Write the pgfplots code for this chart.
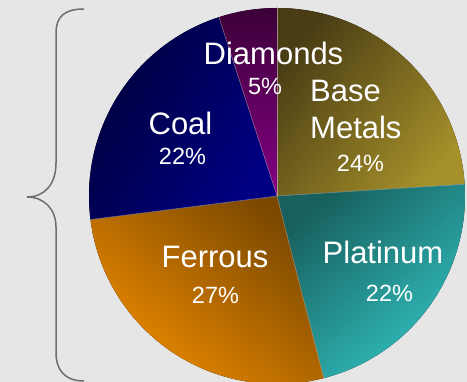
\documentclass[border=0pt]{standalone}
\usepackage{fontspec}
\setmainfont{Liberation Sans}
\usepackage{pgfplots}
\usepackage{pgfplotstable}
\pgfplotsset{compat=1.18}

\definecolor{bgc}{HTML}{E6E6E6}
\definecolor{braceC}{HTML}{6E6E6E}
\definecolor{bmD}{HTML}{4A3D14}
\definecolor{bmL}{HTML}{A5902A}
\definecolor{ptD}{HTML}{17605E}
\definecolor{ptL}{HTML}{32C0C0}
\definecolor{feD}{HTML}{7A4800}
\definecolor{feL}{HTML}{F08C00}
\definecolor{coD}{HTML}{00003A}
\definecolor{coL}{HTML}{000084}
\definecolor{diD}{HTML}{3C0038}
\definecolor{diL}{HTML}{840084}

% slice shares (percent), clockwise from 12 o'clock
\pgfplotstableread{
slice value
BaseMetals 24
Platinum 22
Ferrous 27
Coal 22
Diamonds 5
}\piedata

\pgfplotstablegetelem{0}{value}\of\piedata \let\vA\pgfplotsretval
\pgfplotstablegetelem{1}{value}\of\piedata \let\vB\pgfplotsretval
\pgfplotstablegetelem{2}{value}\of\piedata \let\vC\pgfplotsretval
\pgfplotstablegetelem{3}{value}\of\piedata \let\vD\pgfplotsretval
\pgfplotstablegetelem{4}{value}\of\piedata \let\vE\pgfplotsretval
\pgfmathsetmacro\aA{90}
\pgfmathsetmacro\aB{\aA-3.6*\vA}
\pgfmathsetmacro\aC{\aB-3.6*\vB}
\pgfmathsetmacro\aD{\aC-3.6*\vC}
\pgfmathsetmacro\aE{\aD-3.6*\vD}
\pgfmathsetmacro\aF{\aE-3.6*\vE}

\tikzset{nm/.style={white, anchor=base, inner sep=0pt, font=\fontsize{31}{31}\selectfont},
         pc/.style={white, anchor=base, inner sep=0pt, font=\fontsize{23.5}{23.5}\selectfont},
         sep/.style={white, opacity=0.45, line width=0.5pt}}

\begin{document}
\begin{tikzpicture}
\begin{axis}[x=1pt, y=1pt, xmin=0, xmax=467, ymin=0, ymax=382,
  hide axis, scale only axis, clip=true]
\fill[bgc] (axis cs:0,0) rectangle (axis cs:467,382);
% slices
\fill[top color=bmD, bottom color=bmL, shading angle=50] (axis cs:277,186) -- ++(\aA:188pt) arc[start angle=\aA, end angle=\aB, radius=188pt] -- cycle;
\fill[top color=ptD, bottom color=ptL, shading angle=40] (axis cs:277,186) -- ++(\aB:188pt) arc[start angle=\aB, end angle=\aC, radius=188pt] -- cycle;
\fill[top color=feD, bottom color=feL, shading angle=-40] (axis cs:277,186) -- ++(\aC:188pt) arc[start angle=\aC, end angle=\aD, radius=188pt] -- cycle;
\fill[top color=coD, bottom color=coL, shading angle=60] (axis cs:277,186) -- ++(\aD:188pt) arc[start angle=\aD, end angle=\aE, radius=188pt] -- cycle;
\fill[top color=diD, bottom color=diL, shading angle=0] (axis cs:277,186) -- ++(\aE:188pt) arc[start angle=\aE, end angle=\aF, radius=188pt] -- cycle;
% separators
\draw[sep] (axis cs:277,186) -- ++(\aA:188pt);
\draw[sep] (axis cs:277,186) -- ++(\aB:188pt);
\draw[sep] (axis cs:277,186) -- ++(\aC:188pt);
\draw[sep] (axis cs:277,186) -- ++(\aD:188pt);
\draw[sep] (axis cs:277,186) -- ++(\aE:188pt);
% brace
\draw[braceC, line width=1.5pt] (axis cs:84,373) .. controls (axis cs:64,373) and (axis cs:56,365) .. (axis cs:56,349) -- (axis cs:56,219) .. controls (axis cs:56,197) and (axis cs:44,185) .. (axis cs:27,185) .. controls (axis cs:44,185) and (axis cs:56,173) .. (axis cs:56,155) -- (axis cs:56,29) .. controls (axis cs:56,13) and (axis cs:64,1) .. (axis cs:84,1);
% labels
\node[nm] at (axis cs:273.5,317) {Diamonds};
\node[pc] at (axis cs:265,287) {5\%};
\node[nm, anchor=base west] at (axis cs:310,280) {Base};
\node[nm, anchor=base west] at (axis cs:310,243) {Metals};
\node[pc] at (axis cs:360.5,210) {24\%};
\node[nm] at (axis cs:180.5,247) {Coal};
\node[pc] at (axis cs:182.5,217) {22\%};
\node[nm] at (axis cs:215,114) {Ferrous};
\node[pc] at (axis cs:215.5,78) {27\%};
\node[nm] at (axis cs:383,118) {Platinum};
\node[pc] at (axis cs:389.5,80) {22\%};
\end{axis}
\end{tikzpicture}
\end{document}
